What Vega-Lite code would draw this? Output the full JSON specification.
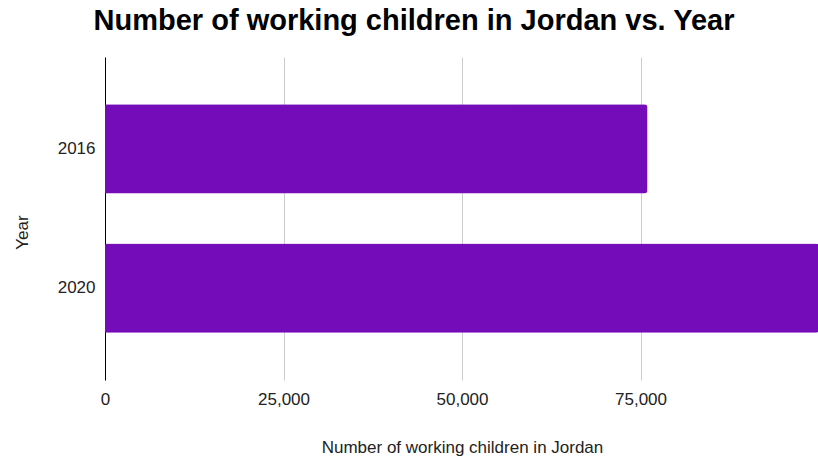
{
  "$schema": "https://vega.github.io/schema/vega-lite/v6.json",
  "autosize": "none",
  "padding": {"left": 105, "top": 57, "right": 0, "bottom": 76},
  "width": 714,
  "height": 323,
  "background": "white",
  "title": {
    "text": "Number of working children in Jordan vs. Year",
    "font": "Liberation Sans",
    "fontSize": 29,
    "fontWeight": "bold",
    "color": "#000000",
    "anchor": "middle",
    "baseline": "alphabetic",
    "offset": 24,
    "dx": -48,
    "dy": 26
  },
  "config": {
    "view": {"stroke": null},
    "font": "Liberation Sans"
  },
  "data": {
    "values": [
      {"Year": "2016", "Children": 75982},
      {"Year": "2020", "Children": 100000}
    ]
  },
  "mark": {"type": "bar", "color": "#740cb9", "cornerRadiusEnd": 3},
  "encoding": {
    "y": {
      "field": "Year",
      "type": "nominal",
      "sort": ["2016", "2020"],
      "scale": {"paddingInner": 0.36, "paddingOuter": 0.338},
      "axis": {
        "title": "Year",
        "titleFont": "Liberation Sans",
        "titleFontSize": 17,
        "titleFontWeight": "normal",
        "titleColor": "#222222",
        "titlePadding": 26,
        "titleY": 175,
        "labelFont": "Liberation Sans",
        "labelFontSize": 17,
        "labelColor": "#222222",
        "labelPadding": 10,
        "ticks": false,
        "domainColor": "#000000",
        "domainWidth": 1
      }
    },
    "x": {
      "field": "Children",
      "type": "quantitative",
      "scale": {"domain": [0, 100000], "nice": false},
      "axis": {
        "title": "Number of working children in Jordan",
        "titleFont": "Liberation Sans",
        "titleFontSize": 17,
        "titleFontWeight": "normal",
        "titleColor": "#222222",
        "titlePadding": 32,
        "labelFont": "Liberation Sans",
        "labelFontSize": 17,
        "labelColor": "#222222",
        "labelPadding": 11,
        "labelFlush": false,
        "values": [0, 25000, 50000, 75000],
        "format": ",d",
        "ticks": false,
        "domain": false,
        "grid": true,
        "gridColor": "#cccccc",
        "gridWidth": 1
      }
    }
  }
}
